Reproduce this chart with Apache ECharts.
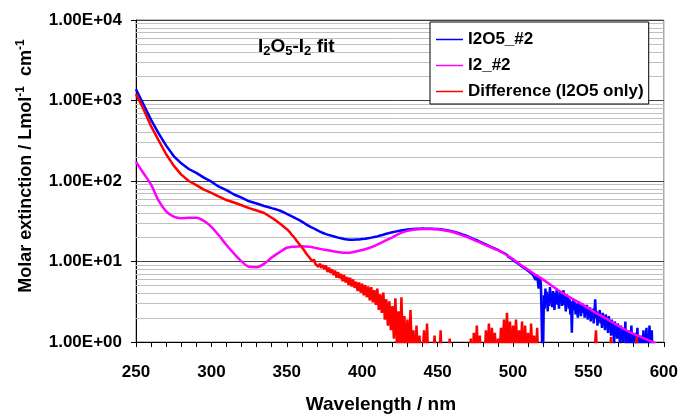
<!DOCTYPE html>
<html><head><meta charset="utf-8">
<script src="https://cdn.jsdelivr.net/npm/echarts@6/dist/echarts.min.js"></script>
<style>html,body{margin:0;padding:0;background:#fff}#c{width:681px;height:419px}</style>
</head><body><div id="c"></div>
<script>
// ---------- data (wavelength in nm, molar extinction) ----------
const seriesNames = ['I2O5_#2', 'I2_#2', 'Difference (I2O5 only)'];
const xTicks = [250, 300, 350, 400, 450, 500, 550, 600];
const yTicks = [1, 10, 100, 1000, 10000];

// I2O5_#2 : 250..340 every 5 nm
const i2o5Coarse = [1380, 890, 575, 390, 275, 204, 166, 141, 126, 110, 98, 85, 77, 68, 62, 56, 52.5, 49, 46];
// I2O5_#2 : 341..518 every 1 nm
const i2o5Fine = [
45.6,44.9,44.7,43.8,43.0,42.4,41.7,40.8,40.0,39.1,38.2,37.5,36.8,35.9,35.0,34.3,33.4,32.9,31.8,31.3,
30.3,29.6,28.8,28.1,27.4,26.8,26.2,25.7,25.0,24.5,23.9,23.5,23.0,22.6,22.3,21.9,21.5,21.3,20.9,20.8,
20.4,20.3,19.9,19.8,19.5,19.4,19.1,19.0,18.8,18.8,18.6,18.6,18.5,18.6,18.5,18.7,18.6,18.8,18.7,19.0,
18.9,19.2,19.1,19.5,19.4,19.8,19.8,20.2,20.1,20.5,20.6,21.0,21.1,21.5,21.7,22.1,22.2,22.6,22.7,23.1,
23.2,23.5,23.6,23.9,24.0,24.3,24.4,24.7,24.7,25.0,24.9,25.2,25.1,25.4,25.2,25.5,25.3,25.6,25.3,25.7,
25.4,25.6,25.3,25.6,25.3,25.5,25.2,25.4,25.0,25.3,24.8,25.1,24.5,24.8,24.2,24.5,23.9,24.1,23.4,23.6,
22.9,23.1,22.4,22.5,21.7,21.8,21.0,21.2,20.3,20.5,19.6,19.8,18.9,19.0,18.2,18.4,17.5,17.6,16.8,16.9,
16.2,16.3,15.6,15.6,15.0,15.0,14.4,14.5,13.8,13.9,13.3,13.3,12.6,12.7,12.1,12.1,11.4,11.5,10.8,10.8,
10.1,10.2,9.5,9.6,8.9,9.1,8.4,8.6,7.9,8.0,7.4,7.6,6.9,7.1,5.9,6.8,4.6,6.4];
// I2O5_#2 : 518.5..593 every 0.5 nm
const i2o5Tail = [
5.2,1.8,0.6,0.9,3.8,2.6,4.6,3.1,4.2,2.4,3.9,2.8,4.8,3.2,3.7,2.7,4.3,3.4,2.5,4.1,
3.0,4.5,2.9,3.8,2.6,4.2,3.3,4.0,2.8,3.6,4.4,2.9,3.5,2.4,3.9,3.1,3.7,2.6,3.4,2.2,
3.2,1.3,2.9,3.3,2.5,3.1,2.2,3.0,2.6,2.0,3.2,2.4,2.9,2.1,2.7,3.0,2.3,2.8,2.0,2.6,
2.2,2.9,1.9,2.5,2.1,2.7,1.8,2.4,2.0,2.6,1.7,2.3,3.4,2.0,2.4,1.6,2.2,1.9,2.5,1.7,
2.1,1.5,2.3,1.8,2.0,1.4,2.2,1.7,1.9,1.3,2.1,1.6,1.8,1.2,1.9,1.5,1.7,0.9,1.8,1.4,
1.6,1.1,1.7,1.3,1.5,0.8,1.6,1.2,1.4,1.0,1.5,1.2,1.8,0.7,1.4,1.1,1.3,0.9,1.4,1.0,
1.6,0.8,1.3,1.1,1.2,0.7,1.3,1.0,1.5,0.8,1.2,1.0,1.1,0.6,1.2,0.9,1.4,0.8,1.1,1.0,
1.5,0.7,1.2,0.9,1.6,0.8,1.1,1.4,0.7,1.0];

// I2_#2 : 250..595 every 5 nm
const i2Coarse = [172, 125, 90, 57, 42, 36, 34.5, 35, 35, 32, 27, 21, 16, 12.5, 10, 8.6, 8.5, 9.4, 11.2,
13, 14.8, 15.3, 15.5, 15.2, 14.6, 14, 13.5, 13, 12.8, 13.2, 13.9, 14.8, 16.2, 18, 20, 22.3, 24, 24.9,
25.4, 25.4, 25.1, 24.3, 23.2, 21.6, 20, 18.2, 16.6, 15.1, 13.8, 12.3, 10.7, 9.1, 7.9, 6.8,
5.96, 5.1, 4.4, 3.85, 3.4, 3.0, 2.63, 2.29, 2.04, 1.8, 1.58, 1.4, 1.26, 1.15, 1.05, 0.97];

// Difference : 250..340 every 5 nm
const diffCoarse = [1200, 780, 480, 320, 215, 155, 120, 100, 89, 78, 71, 64, 58, 54, 50, 46, 43, 40, 35];
// Difference : 341..594 every 1 nm
const diffFine = [
34.2,33.1,32.6,31.0,30.4,29.0,28.6,27.0,26.3,25.2,24.0,23.1,21.8,21.0,19.8,19.2,17.6,17.1,15.8,15.9,
14.2,13.9,12.5,12.6,11.2,11.4,10.0,10.6,9.3,9.8,8.6,9.4,8.3,9.0,8.0,8.9,7.4,8.4,7.2,8.0,
6.8,7.7,6.3,7.4,6.2,7.0,5.7,6.8,5.5,6.4,5.1,6.3,4.9,6.0,4.7,5.6,4.3,5.5,4.1,5.3,
3.8,5.1,3.6,4.9,3.3,4.8,3.1,4.4,2.9,4.6,2.5,3.9,2.3,4.1,1.9,3.4,1.6,3.2,1.4,2.8,
1.1,3.5,0.9,2.4,0.7,3.6,0.8,2.1,0.6,1.9,0.5,2.5,0.7,1.4,0.4,1.6,0.5,1.2,0.4,0.7,
1.4,0.5,1.7,0.4,0.8,0.5,0.6,1.2,0.4,0.7,0.5,1.4,0.4,0.6,0.5,0.8,0.4,1.1,0.5,0.7,
0.4,0.6,0.5,0.9,0.4,0.6,0.7,0.5,0.4,0.8,0.5,1.1,0.4,1.3,0.6,1.6,0.5,1.2,0.4,0.9,
0.5,1.4,0.6,1.7,0.5,1.5,0.7,1.3,0.5,1.1,0.6,1.5,0.7,1.9,0.8,2.3,0.7,1.8,0.6,1.6,
0.8,1.9,0.6,1.4,0.7,1.8,0.5,1.6,0.6,1.3,0.5,1.7,0.6,1.2,0.5,1.5,0.4,0.8,0.5,0.7,
0.4,0.6,0.4,0.7,0.5,0.3,0.6,0.4,0.5,0.7,0.4,0.6,0.3,0.5,0.6,0.4,0.7,0.5,0.3,0.6,
0.4,0.5,0.7,0.3,0.6,0.4,0.5,0.6,0.3,0.5,0.4,0.6,0.5,0.7,1.4,0.5,0.4,0.6,0.3,0.5,
0.4,0.6,0.5,0.7,1.15,0.4,0.6,0.3,0.5,0.4,0.6,0.5,0.3,0.6,0.4,0.5,0.6,0.3,0.5,0.4,
0.7,1.15,0.4,0.5,0.3,0.6,0.4,0.5,0.6,0.3,0.5,0.4,0.6,0.4];

// ---------- build ----------
function pairs(start, step, vals) { return vals.map((v, i) => [start + i * step, v]); }
const i2o5Data = pairs(250, 5, i2o5Coarse).concat(pairs(341, 1, i2o5Fine), pairs(518.5, 0.5, i2o5Tail));
const i2Data = pairs(250, 5, i2Coarse);
const diffData = pairs(250, 5, diffCoarse).concat(pairs(341, 1, diffFine));

const minorGrid = [];
for (let k = 0; k < yTicks.length - 1; k++) for (let m = 2; m <= 9; m++) minorGrid.push({ yAxis: m * yTicks[k] });

const FONT = '"Liberation Sans", Arial, sans-serif';
const chart = echarts.init(document.getElementById('c'), null, { renderer: 'canvas' });
chart.setOption({
  animation: false,
  backgroundColor: '#fff',
  textStyle: { fontFamily: FONT },
  title: {
    text: 'I{s|2}O{s|5}-I{s|2} fit',
    left: 258, top: 36, padding: 0,
    textStyle: { fontFamily: FONT, fontWeight: 'bold', fontSize: 19, color: '#000', lineHeight: 22,
      rich: { s: { fontFamily: FONT, fontWeight: 'bold', fontSize: 13, lineHeight: 12, verticalAlign: 'bottom', color: '#000' } } }
  },
  legend: {
    orient: 'vertical', left: 430, top: 22, z: 20,
    padding: [9, 5, 4, 6], itemGap: 9, itemWidth: 27, itemHeight: 1.5, icon: 'rect',
    backgroundColor: '#fff', borderColor: '#000', borderWidth: 1, borderRadius: 0,
    textStyle: { fontFamily: FONT, fontWeight: 'bold', fontSize: 17, color: '#000', lineHeight: 17 },
    data: seriesNames
  },
  grid: { left: 136, right: 17, top: 20, bottom: 74, show: true, borderColor: '#808080', borderWidth: 1, backgroundColor: '#fff' },
  xAxis: {
    type: 'value', min: xTicks[0], max: xTicks[xTicks.length - 1], interval: 50,
    name: 'Wavelength / nm', nameLocation: 'middle', nameGap: 53,
    nameTextStyle: { fontFamily: FONT, fontWeight: 'bold', fontSize: 19, color: '#000', padding: [0, 38, 0, 0] },
    axisLine: { onZero: false, lineStyle: { color: '#000', width: 1 } },
    axisTick: { show: true, inside: false, length: 5, lineStyle: { color: '#000' } },
    minorTick: { show: true, splitNumber: 5, length: 5, lineStyle: { color: '#000' } },
    splitLine: { show: false },
    axisLabel: { fontFamily: FONT, fontWeight: 'bold', fontSize: 17, color: '#000', margin: 22 }
  },
  yAxis: {
    type: 'log', logBase: 10, min: yTicks[0], max: yTicks[yTicks.length - 1],
    name: 'Molar extinction / Lmol{sup|-1}  cm{sup|-1}', nameLocation: 'middle', nameGap: 99,
    nameTextStyle: { fontFamily: FONT, fontWeight: 'bold', fontSize: 18, color: '#000', lineHeight: 22, padding: [0, 0, 0, 30],
      rich: { sup: { fontFamily: FONT, fontWeight: 'bold', fontSize: 12, lineHeight: 12, verticalAlign: 'top', color: '#000' } } },
    axisLine: { show: true, lineStyle: { color: '#000', width: 1 } },
    axisTick: { show: true, inside: false, length: 5, lineStyle: { color: '#000' } },
    splitLine: { show: true, lineStyle: { color: '#404040', width: 1 } },
    axisLabel: { fontFamily: FONT, fontWeight: 'bold', fontSize: 17, color: '#000', margin: 14,
      formatter: v => '1.00E+' + String(Math.round(Math.log10(v))).padStart(2, '0') }
  },
  series: [
    { name: 'grid-minor', type: 'line', data: [], silent: true, z: 1,
      markLine: { silent: true, z: 1, symbol: ['none', 'none'], label: { show: false }, animation: false,
        lineStyle: { color: '#c0c0c0', width: 1, type: 'solid' }, emphasis: { disabled: true }, data: minorGrid } },
    { name: seriesNames[0], type: 'line', data: i2o5Data, symbol: 'none', z: 3,
      lineStyle: { color: '#0000ff', width: 2.5 }, itemStyle: { color: '#0000ff' } },
    { name: seriesNames[1], type: 'line', data: i2Data, symbol: 'none', smooth: 0.3, z: 4,
      lineStyle: { color: '#ff00ff', width: 2.5 }, itemStyle: { color: '#ff00ff' } },
    { name: seriesNames[2], type: 'line', data: diffData, symbol: 'none', z: 5,
      lineStyle: { color: '#ff0000', width: 2.5 }, itemStyle: { color: '#ff0000' } }
  ]
});
</script></body></html>
